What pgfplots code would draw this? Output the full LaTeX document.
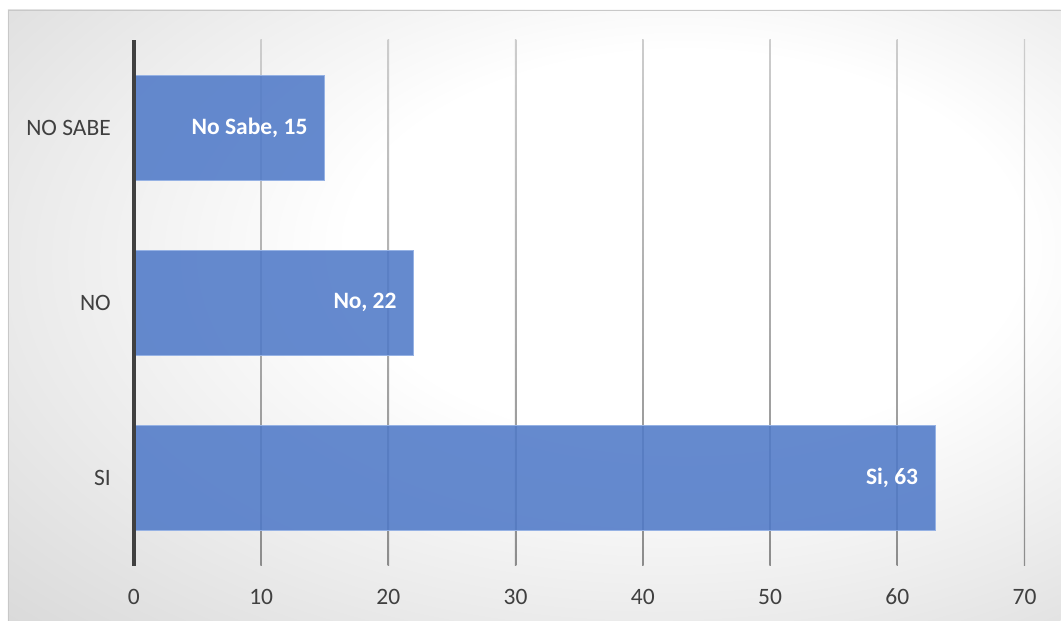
\documentclass[border=0pt]{standalone}
\usepackage{pgfplots}
\pgfplotsset{compat=1.18}
\usepackage{pgfplotstable}
\usepackage{fontspec}
\setmainfont{Carlito}
\definecolor{barblue}{RGB}{80,122,200}
\definecolor{baredge}{RGB}{150,178,228}
\definecolor{txtgray}{RGB}{64,64,64}
\definecolor{gridtop}{RGB}{205,205,205}
\definecolor{gridbot}{RGB}{140,140,140}
\definecolor{framegray}{RGB}{200,200,200}
\pgfdeclareradialshading{bgshade}{\pgfpoint{9bp}{7bp}}{color(0bp)=(white); color(16bp)=(white); color(30bp)=(black!8); color(45bp)=(black!17); color(60bp)=(black!22); color(80bp)=(black!24)}
\pgfplotstableread{
pos val label
0 63 {Si, 63}
1 22 {No, 22}
2 15 {No Sabe, 15}
}\datatable
\begin{document}
\begin{tikzpicture}
\fill[white] (0pt,0pt) rectangle (1061pt,621pt);
\shade[shading=bgshade] (8pt,0pt) rectangle (1061pt,611pt);
\draw[framegray, line width=1pt] (8.5pt,0pt) -- (8.5pt,610.5pt) -- (1061pt,610.5pt);
\useasboundingbox (0pt,0pt) rectangle (1061pt,621pt);
\begin{axis}[
  at={(134pt,55pt)}, anchor=south west,
  scale only axis, width=891pt, height=526pt,
  xmin=0, xmax=70, ymin=-0.5, ymax=2.5,
  xtick={0,10,...,70}, ytick={0,1,2},
  yticklabels={SI,NO,NO SABE},
  major tick length=0pt,
  axis line style={draw=none},
  tick label style={font=\fontsize{23.5}{28}\selectfont, text=txtgray},
  /pgf/number format/assume math mode=true,
  xticklabel style={inner sep=0pt, anchor=north, yshift=-23pt},
  yticklabel style={inner sep=0pt, anchor=east, xshift=-23pt},
  xbar, bar width=105pt,
  point meta=explicit symbolic,
  nodes near coords,
  nodes near coords style={anchor=east, inner sep=0pt, xshift=-17pt, text=white, font=\fontsize{23.5}{28}\selectfont\bfseries},
  clip=false,
]
\pgfplotsinvokeforeach{10,20,30,40,50,60,70}{
  \shade[top color=gridtop, bottom color=gridbot] (axis cs:#1,-0.5) ++(-0.7pt,0pt) rectangle ++(1.4pt,526pt);
}
\addplot[fill=barblue, fill opacity=0.88, draw=baredge, line width=0.8pt, text opacity=1] table[x=val, y=pos, meta=label] {\datatable};
\draw[txtgray, line width=3.2pt] (axis cs:0,-0.5) -- (axis cs:0,2.5);
\end{axis}
\end{tikzpicture}
\end{document}
